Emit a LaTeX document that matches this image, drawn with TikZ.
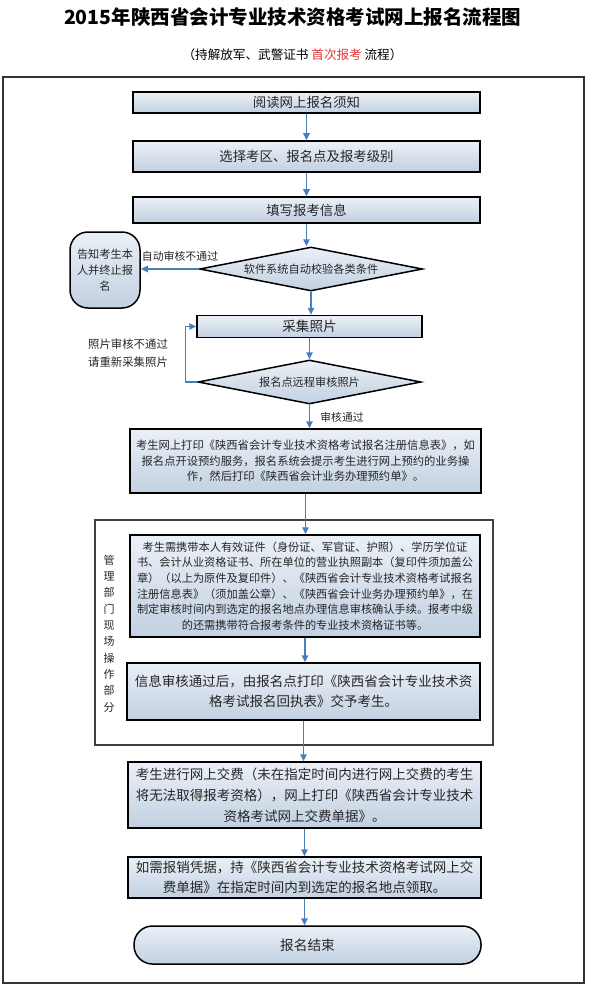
\documentclass[tikz,border=0pt]{standalone}
\usepackage{xcolor}
\usepackage{fontspec}
\setmainfont{Noto Sans CJK SC}
\usepackage{tikz}
\usetikzlibrary{shapes.geometric,arrows.meta}
\definecolor{boxtop}{HTML}{EBF0F7}
\definecolor{boxbot}{HTML}{C2D0E1}
\definecolor{flow}{HTML}{4A7EBB}
\definecolor{txt}{HTML}{262626}
\definecolor{mark}{HTML}{E2383D}

\begin{document}
\begin{tikzpicture}[x=1pt,y=-1pt,
    box/.style={draw=black,line width=1.5pt,top color=boxtop,bottom color=boxbot,align=center,inner sep=0pt,text=txt},
    dia/.style={box,diamond,aspect=5,minimum width=223pt,minimum height=44pt,font=\fontsize{11.2}{14}\selectfont},
    arr/.style={flow,line width=1.5pt,-{Triangle[length=7pt,width=6.5pt]}},
    lbl/.style={text=txt,align=center,inner sep=0pt}]
    \useasboundingbox (0,0) rectangle (590,995);
    \node[inner sep=0pt,font=\fontsize{19.5}{22}\selectfont\bfseries] (t) at (292.5,17) {2015年陕西省会计专业技术资格考试网上报名流程图};
    \node[inner sep=0pt,font=\fontsize{12.6}{15}\selectfont] (s) at (292.5,55) {（持解放军、武警证书 \textcolor{mark}{首次报考} 流程）};
    \draw[black!80,line width=1.3pt] (3,77) rectangle (584,983);
    \draw[black!75,line width=2.2pt] (95,520) rectangle (493,745);
    \node[box,minimum width=347pt,minimum height=21pt,font=\fontsize{13.4}{16}\selectfont] (1) at (306.5,102.5) {阅读网上报名须知};
    \node[box,minimum width=347pt,minimum height=31pt,font=\fontsize{13.4}{16}\selectfont] (2) at (306.5,156.5) {选择考区、报名点及报考级别};
    \node[box,minimum width=347pt,minimum height=26pt,font=\fontsize{13.4}{16}\selectfont] (3) at (306.5,210) {填写报考信息};
    \node[dia] (4) at (311,269) {软件系统自动校验各类条件};
    \node[box,rounded corners=18pt,minimum width=70pt,minimum height=76pt,font=\fontsize{11.2}{16}\selectfont] (5) at (105,270) {告知考生本\\人并终止报\\名};
    \node[box,minimum width=225pt,minimum height=22pt,font=\fontsize{13.6}{16}\selectfont] (6) at (309.5,326.5) {采集照片};
    \node[dia] (7) at (309.5,382) {报名点远程审核照片};
    \node[box,minimum width=351pt,minimum height=64pt,font=\fontsize{11.3}{15.5}\selectfont] (8) at (305.5,461) {考生网上打印《陕西省会计专业技术资格考试报名注册信息表》，如\\报名点开设预约服务，报名系统会提示考生进行网上预约的业务操\\作，然后打印《陕西省会计业务办理预约单》。};
    \node[box,minimum width=350pt,minimum height=102pt,font=\fontsize{11.2}{15.7}\selectfont] (9) at (305,586) {考生需携带本人有效证件（身份证、军官证、护照）、学历学位证\\书、会计从业资格证书、所在单位的营业执照副本（复印件须加盖公\\章）（以上为原件及复印件）、《陕西省会计专业技术资格考试报名\\注册信息表》（须加盖公章）、《陕西省会计业务办理预约单》，在\\制定审核时间内到选定的报名地点办理信息审核确认手续。报考中级\\的还需携带符合报考条件的专业技术资格证书等。};
    \node[box,minimum width=353pt,minimum height=57pt,font=\fontsize{13.5}{20}\selectfont] (10) at (303.5,691.5) {信息审核通过后，由报名点打印《陕西省会计专业技术资\\格考试报名回执表》交予考生。};
    \node[box,minimum width=353pt,minimum height=66pt,font=\fontsize{13.5}{21}\selectfont] (11) at (304.5,795) {考生进行网上交费（未在指定时间内进行网上交费的考生\\将无法取得报考资格），网上打印《陕西省会计专业技术\\资格考试网上交费单据》。};
    \node[box,minimum width=353pt,minimum height=41pt,font=\fontsize{13.5}{20}\selectfont] (12) at (304.5,877.5) {如需报销凭据，持《陕西省会计专业技术资格考试网上交\\费单据》在指定时间内到选定的报名地点领取。};
    \node[box,rounded corners=18.5pt,minimum width=347pt,minimum height=38pt,font=\fontsize{13.7}{16}\selectfont] (13) at (307.5,945) {报名结束};
    \node[lbl,font=\fontsize{10.9}{13}\selectfont] (a) at (180,256) {自动审核不通过};
    \node[lbl,font=\fontsize{11.4}{18}\selectfont] (b) at (128,353) {照片审核不通过\\请重新采集照片};
    \node[lbl,font=\fontsize{10.8}{13}\selectfont] (c) at (342,417) {审核通过};
    \node[lbl,font=\fontsize{11}{16.3}\selectfont] (d) at (109,633.5) {管\\理\\部\\门\\现\\场\\操\\作\\部\\分};
    \draw[arr] (1.south) to (1.south |- 2.north);
    \draw[arr] (2.south) to (2.south |- 3.north);
    \draw[arr] (3.south) to (3.south |- 4.north);
    \draw[arr] (4.west) to (4.west -| 5.east);
    \draw[arr] (4.south) to (4.south |- 6.north);
    \draw[arr] (6.south) to (6.south |- 7.north);
    \draw[arr] (7.west) -- ++(-12,0) |- (6.west);
    \draw[arr] (7.south) to (7.south |- 8.north);
    \draw[arr] (8.south) to (8.south |- 9.north);
    \draw[arr] (9.south) to (9.south |- 10.north);
    \draw[arr] (10.south) to (10.south |- 11.north);
    \draw[arr] (11.south) to (11.south |- 12.north);
    \draw[arr] (12.south) to (12.south |- 13.north);
\end{tikzpicture}
\end{document}
